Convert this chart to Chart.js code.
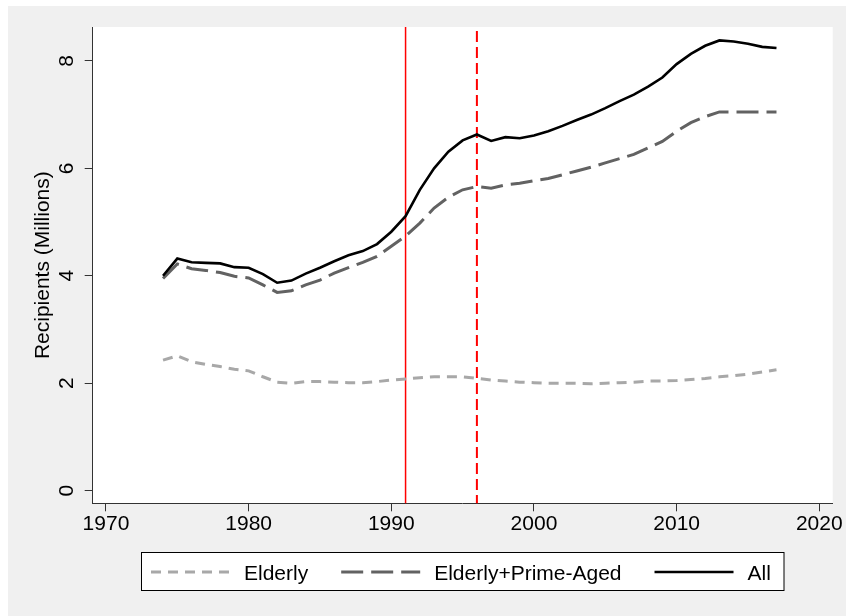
<!DOCTYPE html>
<html lang="en">
  <head>
    <meta charset="UTF-8" />
    <title>Recipients (Millions)</title>
    <style>
      * {
        box-sizing: border-box;
        margin: 0;
        padding: 0;
      }
      body {
        background: #ffffff;
      }
      canvas {
        display: block;
      }
    </style>
  </head>
  <body>
    <canvas id="chart" width="846" height="616"></canvas>

    <script src="https://cdn.jsdelivr.net/npm/chart.js"></script>
    <script>
      const years = [
        1974, 1975, 1976, 1977, 1978, 1979, 1980, 1981, 1982, 1983,
        1984, 1985, 1986, 1987, 1988, 1989, 1990, 1991, 1992, 1993,
        1994, 1995, 1996, 1997, 1998, 1999, 2000, 2001, 2002, 2003,
        2004, 2005, 2006, 2007, 2008, 2009, 2010, 2011, 2012, 2013,
        2014, 2015, 2016, 2017,
      ];
      const elderly = [
        2.43, 2.51, 2.4, 2.35, 2.31, 2.26, 2.23, 2.12, 2.02, 2.0,
        2.03, 2.03, 2.02, 2.01, 2.01, 2.03, 2.06, 2.08, 2.1, 2.12,
        2.12, 2.12, 2.09, 2.06, 2.04, 2.02, 2.01, 2.0, 2.0, 2.0,
        1.99, 2.0, 2.01, 2.02, 2.04, 2.04, 2.05, 2.07, 2.09, 2.12,
        2.14, 2.17, 2.21, 2.25,
      ];
      const elderlyPrime = [
        3.95, 4.22, 4.13, 4.1, 4.06, 3.99, 3.96, 3.83, 3.69, 3.72,
        3.83, 3.92, 4.05, 4.15, 4.25, 4.36, 4.55, 4.74, 4.98, 5.26,
        5.46, 5.6, 5.66, 5.63, 5.69, 5.72, 5.77, 5.81, 5.88, 5.95,
        6.02, 6.1, 6.18, 6.26, 6.38, 6.5, 6.69, 6.85, 6.96, 7.05,
        7.05, 7.05, 7.05, 7.05,
      ];
      const allRecipients = [
        4.0, 4.32, 4.25, 4.24, 4.23, 4.16, 4.15, 4.03, 3.87, 3.91,
        4.04, 4.15, 4.27, 4.38, 4.46, 4.59, 4.82, 5.11, 5.6, 6.0,
        6.31, 6.52, 6.63, 6.51, 6.58, 6.56, 6.61, 6.69, 6.79, 6.9,
        7.0, 7.12, 7.25, 7.37, 7.52, 7.69, 7.94, 8.13, 8.28, 8.38,
        8.36, 8.32, 8.26, 8.24,
      ];
      const seriesLabels = ["Elderly", "Elderly+Prime-Aged", "All"];
      const xTicks = [1970, 1980, 1990, 2000, 2010, 2020];
      const yTicks = [0, 2, 4, 6, 8];
      const markerYears = [1991, 1996];

      const fontFamily = "'Liberation Sans', Arial, sans-serif";
      const toPoints = (vals) => vals.map((v, i) => ({ x: years[i], y: v }));

      // grey graph region with white plot region
      const background = {
        id: "background",
        beforeDraw(chart) {
          const { ctx, chartArea } = chart;
          ctx.save();
          ctx.fillStyle = "#ffffff";
          ctx.fillRect(0, 0, chart.width, chart.height);
          ctx.fillStyle = "#f0f0f0";
          ctx.fillRect(8, 6, chart.width - 8, chart.height - 6);
          ctx.fillStyle = "#ffffff";
          ctx.fillRect(
            chartArea.left,
            chartArea.top,
            chartArea.right - chartArea.left,
            chartArea.bottom - chartArea.top
          );
          ctx.restore();
        },
      };

      // red vertical lines at 1991 (solid) and 1996 (dashed)
      const markerLines = {
        id: "markerLines",
        beforeDatasetsDraw(chart) {
          const { ctx, chartArea } = chart;
          const xScale = chart.scales.x;
          markerYears.forEach((yr, i) => {
            const px = xScale.getPixelForValue(yr);
            ctx.save();
            ctx.strokeStyle = "#ff0000";
            ctx.lineWidth = i === 0 ? 1.5 : 2;
            ctx.setLineDash(i === 0 ? [] : [11, 5]);
            ctx.lineDashOffset = i === 0 ? 0 : -4;
            ctx.beginPath();
            ctx.moveTo(px, chartArea.top);
            ctx.lineTo(px, chartArea.bottom);
            ctx.stroke();
            ctx.restore();
          });
        },
      };

      // vertical y tick labels like Stata
      const yLabels = {
        id: "yLabels",
        afterDraw(chart) {
          const { ctx } = chart;
          const yScale = chart.scales.y;
          ctx.save();
          ctx.font = "21px " + fontFamily;
          ctx.fillStyle = "#000000";
          ctx.textAlign = "center";
          ctx.textBaseline = "alphabetic";
          yScale.ticks.forEach((t) => {
            const py = yScale.getPixelForValue(t.value);
            ctx.save();
            ctx.translate(73.3, py);
            ctx.rotate(-Math.PI / 2);
            ctx.fillText(String(t.value), 0, 0);
            ctx.restore();
          });
          ctx.restore();
        },
      };

      // boxed legend under the axis
      const legendBox = {
        id: "legendBox",
        afterDraw(chart) {
          const { ctx } = chart;
          ctx.save();
          ctx.fillStyle = "#ffffff";
          ctx.fillRect(141.5, 552.5, 642.5, 38);
          ctx.strokeStyle = "#000000";
          ctx.lineWidth = 1;
          ctx.strokeRect(141.5, 552.5, 642.5, 38);
          ctx.font = "21px " + fontFamily;
          ctx.textBaseline = "alphabetic";
          let x = 151;
          const y = 572;
          chart.data.datasets.forEach((ds) => {
            ctx.beginPath();
            ctx.setLineDash(ds.borderDash || []);
            ctx.strokeStyle = ds.borderColor;
            ctx.lineWidth = ds.borderWidth;
            ctx.moveTo(x, y);
            ctx.lineTo(x + 79, y);
            ctx.stroke();
            ctx.setLineDash([]);
            ctx.fillStyle = "#000000";
            ctx.fillText(ds.label, x + 93, 580);
            x += 93 + ctx.measureText(ds.label).width + 33;
          });
          ctx.restore();
        },
      };

      const ctx = document.getElementById("chart").getContext("2d");
      new Chart(ctx, {
        type: "line",
        data: {
          datasets: [
            {
              label: seriesLabels[0],
              data: toPoints(elderly),
              borderColor: "#a8a8a8",
              borderWidth: 3,
              borderDash: [10, 7],
              order: 3,
            },
            {
              label: seriesLabels[1],
              data: toPoints(elderlyPrime),
              borderColor: "#626262",
              borderWidth: 3,
              borderDash: [22, 8],
              order: 2,
            },
            {
              label: seriesLabels[2],
              data: toPoints(allRecipients),
              borderColor: "#000000",
              borderWidth: 2.6,
              order: 1,
            },
          ],
        },
        options: {
          responsive: false,
          animation: false,
          layout: {
            padding: { left: 0, top: 27, right: 13.3, bottom: 0 },
          },
          elements: {
            point: { radius: 0 },
            line: { tension: 0, fill: false },
          },
          plugins: {
            legend: { display: false },
            tooltip: { enabled: false },
          },
          scales: {
            x: {
              type: "linear",
              min: 1969.07,
              max: 2020.94,
              afterBuildTicks: (s) => {
                s.ticks = xTicks.map((v) => ({ value: v }));
              },
              afterFit: (s) => {
                s.height = 112.7;
              },
              ticks: {
                color: "#000000",
                font: { family: fontFamily, size: 21 },
                padding: 0,
                maxRotation: 0,
                callback: (v) => String(v),
              },
              grid: {
                drawOnChartArea: false,
                drawTicks: true,
                tickLength: 8,
                color: "#333333",
                tickColor: "#333333",
              },
              border: { display: true, color: "#333333", width: 1 },
            },
            y: {
              type: "linear",
              min: -0.235,
              max: 8.63,
              afterBuildTicks: (s) => {
                s.ticks = yTicks.map((v) => ({ value: v }));
              },
              afterFit: (s) => {
                s.width = 92.7;
              },
              ticks: { display: false },
              grid: {
                drawOnChartArea: false,
                drawTicks: true,
                tickLength: 8,
                color: "#333333",
                tickColor: "#333333",
              },
              border: { display: true, color: "#333333", width: 1 },
              title: {
                display: true,
                text: "Recipients (Millions)",
                color: "#000000",
                font: { family: fontFamily, size: 21 },
                padding: { top: 31, bottom: 0 },
              },
            },
          },
        },
        plugins: [background, markerLines, yLabels, legendBox],
      });
    </script>
  </body>
</html>
